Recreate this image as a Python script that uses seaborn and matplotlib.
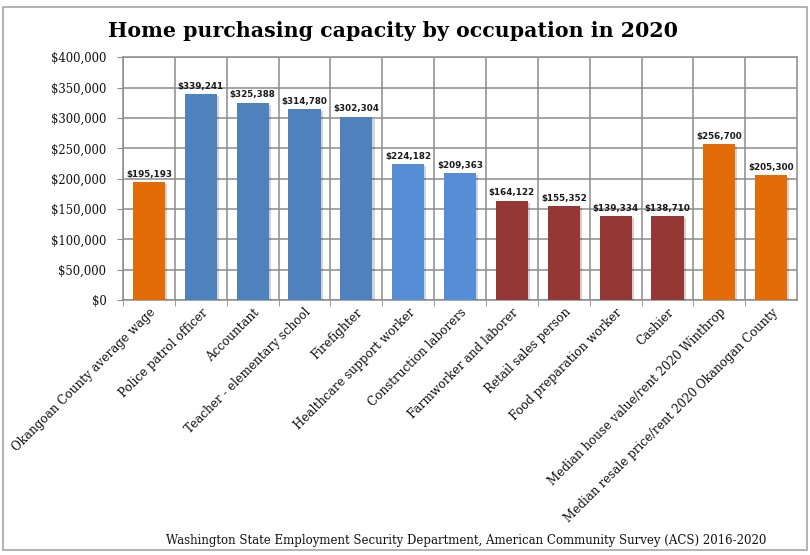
import matplotlib.pyplot as plt
import matplotlib.patheffects as pe
from matplotlib.patches import Rectangle
from matplotlib.ticker import FuncFormatter, MultipleLocator
import numpy as np
import seaborn as sns

# Data
occupations = [
    "Okangoan County average wage",
    "Police patrol officer",
    "Accountant",
    "Teacher - elementary school",
    "Firefighter",
    "Healthcare support worker",
    "Construction laborers",
    "Farmworker and laborer",
    "Retail sales person",
    "Food preparation worker",
    "Cashier",
    "Median house value/rent 2020 Winthrop",
    "Median resale price/rent 2020 Okanogan County",
]
capacity = [195193, 339241, 325388, 314780, 302304, 224182, 209363,
            164122, 155352, 139334, 138710, 256700, 205300]
bar_colors = ["#E36C09", "#4F81BD", "#4F81BD", "#4F81BD", "#4F81BD",
              "#558ED5", "#558ED5", "#953735", "#953735", "#953735",
              "#953735", "#E36C09", "#E36C09"]

title = "Home purchasing capacity by occupation in 2020"
source = "Washington State Employment Security Department, American Community Survey (ACS) 2016-2020"

sns.set_style("white")
serif = ["DejaVu Serif", "Liberation Serif"]

fig = plt.figure(figsize=(8.1, 5.55), dpi=100)
ax = fig.add_axes([0.152, 0.459, 0.832, 0.438])

sns.barplot(x=occupations, y=capacity, hue=occupations, palette=bar_colors,
            legend=False, width=0.62, saturation=1, linewidth=0, ax=ax, zorder=3)

# soft drop shadow like the original
for p in ax.patches:
    p.set_path_effects([pe.SimplePatchShadow(offset=(1.5, -1.5), alpha=0.2), pe.Normal()])

# value labels
for i, v in enumerate(capacity):
    ax.text(i, v + 5000, f"${v:,}", ha="center", va="bottom",
            fontsize=6.3, fontweight="bold", family="DejaVu Sans", color="#1a1a1a")

ax.set_ylim(0, 400000)
ax.set_xlim(-0.5, len(occupations) - 0.5)
ax.yaxis.set_major_locator(MultipleLocator(50000))
ax.yaxis.set_major_formatter(FuncFormatter(lambda y, _: f"${y:,.0f}"))

# grid lines: horizontal on values, vertical on category boundaries
ax.set_xticks(np.arange(len(occupations)) - 0.5, minor=True)
ax.grid(axis="y", which="major", color="#8c8c8c", linewidth=1.1, zorder=0)
ax.grid(axis="x", which="minor", color="#8c8c8c", linewidth=1.1, zorder=0)
ax.set_axisbelow(True)
ax.tick_params(axis="x", which="major", length=0, pad=4, labelcolor="#111111")
ax.tick_params(axis="x", which="minor", length=4, color="#8c8c8c", bottom=True)
ax.tick_params(axis="y", length=4, color="#8c8c8c", left=True, pad=8, labelcolor="#111111")

for s in ax.spines.values():
    s.set_color("#8c8c8c")
    s.set_linewidth(1.1)

ax.set_xticks(range(len(occupations)))
ax.set_xticklabels(occupations, rotation=45, ha="right", rotation_mode="anchor",
                   fontsize=8.6, family=serif)
for lbl in ax.get_yticklabels():
    lbl.set_family(serif)
    lbl.set_fontsize(8.4)
ax.set_xlabel("")
ax.set_ylabel("")

fig.text(0.485, 0.945, title, ha="center", va="center", fontsize=14.8,
         fontweight="bold", family=serif, color="black")
fig.text(0.575, 0.027, source, ha="center", va="center", fontsize=8.5,
         family=serif, color="#111111")

# outer chart border
fig.patches.append(Rectangle((0.004, 0.009), 0.992, 0.978, transform=fig.transFigure,
                             fill=False, edgecolor="#a6a6a6", linewidth=1.2))

fig.savefig("out.png", dpi=100)
